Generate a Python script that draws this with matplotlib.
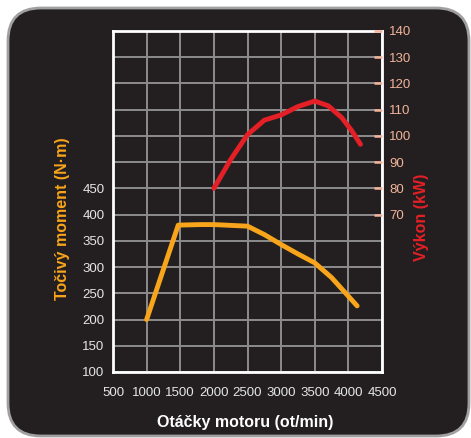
import matplotlib.pyplot as plt
from matplotlib.patches import FancyBboxPatch

# data
torque_rpm = [1000, 1470, 1800, 2000, 2500, 2750, 3000, 3250, 3500, 3750, 4130]
torque_nm = [200, 380, 381, 381, 378, 362, 343, 325, 308, 280, 226]

power_rpm = [2000, 2250, 2500, 2750, 3000, 3250, 3500, 3700, 3900, 4050, 4180]
power_kw = [80, 91, 100.5, 106, 108, 111.2, 113.3, 111.5, 107, 102, 96.8]

x_ticks = [500, 1000, 1500, 2000, 2500, 3000, 3500, 4000, 4500]
left_ticks = [100, 150, 200, 250, 300, 350, 400, 450]
right_ticks = [70, 80, 90, 100, 110, 120, 130, 140]

bg = '#231f20'
orange = '#f8a51b'
red = '#e41f26'
salmon = '#f2b49a'
grid_c = '#8c8c8c'

plt.rcParams['font.family'] = ['Liberation Sans', 'DejaVu Sans']

fig = plt.figure(figsize=(4.71, 4.38), dpi=100)
fig.patch.set_facecolor('white')

# rounded dark panel
panel = FancyBboxPatch((8 / 471, 2 / 438), 461 / 471, 428 / 438,
                       boxstyle='round,pad=0,rounding_size=0.07',
                       transform=fig.transFigure, facecolor=bg,
                       edgecolor='#a0a0a0', linewidth=2, zorder=-5,
                       mutation_aspect=471 / 438)
fig.patches.append(panel)

ax = fig.add_axes([113 / 471, 66 / 438, 269 / 471, 341 / 438])
ax.set_facecolor(bg)
ax.set_xlim(500, 4500)
ax.set_ylim(100, 750)
ax.set_xticks(x_ticks)
ax.set_yticks(range(100, 751, 50))
ax.set_yticklabels([str(v) if v in left_ticks else '' for v in range(100, 751, 50)])
ax.grid(True, color=grid_c, linewidth=1.4)
ax.tick_params(axis='y', length=0, colors='#e6e6e6', labelsize=9.5, pad=6)
ax.tick_params(axis='x', length=0, colors='#e6e6e6', labelsize=9.5, pad=11)
for lab in ax.get_xticklabels():
    lab.set_family(['Liberation Sans Narrow', 'Liberation Sans'])
for s in ax.spines.values():
    s.set_color('white')
    s.set_linewidth(2)

ax.plot(torque_rpm, torque_nm, color=orange, linewidth=3.5,
        solid_capstyle='round', solid_joinstyle='round', zorder=3)

ax2 = ax.twinx()
ax2.set_ylim(10, 140)
ax2.set_yticks(right_ticks)
ax2.tick_params(direction='in', length=6, width=1.8, color=salmon,
                labelcolor=salmon, labelsize=9.5, pad=5)
for s in ax2.spines.values():
    s.set_visible(False)
ax2.plot(power_rpm, power_kw, color=red, linewidth=3.5,
         solid_capstyle='round', solid_joinstyle='round', zorder=3)

ax.set_xlabel('Otáčky motoru (ot/min)', color='white', fontsize=11.5,
              fontweight='bold')
ax.xaxis.set_label_coords(0.49, -0.125)
ax.set_ylabel('Točivý moment (N·m)', color=orange, fontsize=11.5,
              fontweight='bold')
ax.yaxis.set_label_coords(-0.16, 0.45)
ax2.set_ylabel('Výkon (kW)', color=red, fontsize=11.5,
               fontweight='bold')
ax2.yaxis.set_label_coords(1.12, 0.455)

fig.savefig('out.png', dpi=100)
